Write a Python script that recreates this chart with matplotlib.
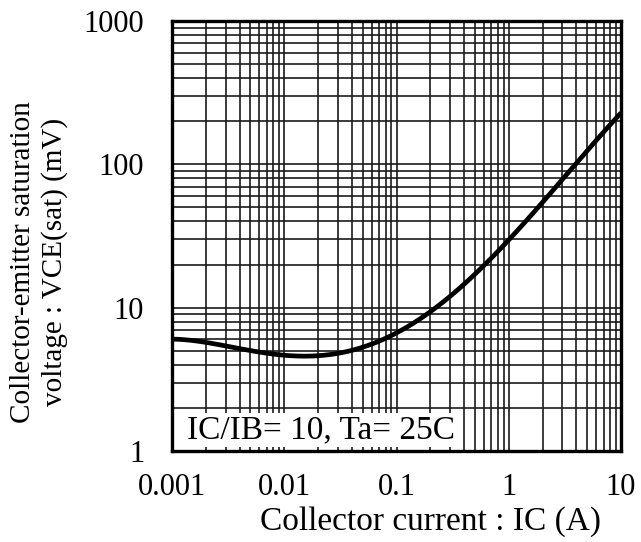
import numpy as np
import matplotlib.pyplot as plt
from matplotlib.ticker import LogLocator, NullFormatter, FixedLocator

plt.rcParams['font.family'] = ['Liberation Serif', 'DejaVu Serif']

# curve
ic = [0.001, 0.002, 0.005, 0.01, 0.0163, 0.03, 0.05, 0.1, 0.146, 0.2, 0.3, 0.5, 1, 2, 3, 5, 10]
vce = [6.05, 5.67, 5.07, 4.75, 4.46, 4.7, 5.49, 6.66, 7.95, 9.19, 11.9, 17.5, 29.7, 53.8, 77.8, 126, 228]

xticks = [0.001, 0.01, 0.1, 1, 10]
xlabels = ['0.001', '0.01', '0.1', '1', '10']
yticks = [1, 10, 100, 1000]
ylabels = ['1', '10', '100', '1000']

fig = plt.figure(figsize=(6.41, 5.42), dpi=100)
ax = fig.add_axes([172/641, 1 - 451/542, 449/641, 430/542])

# smooth line through the read points in log space
lx = np.log10(ic)
ly = np.log10(vce)
xs = np.linspace(lx[0], lx[-1], 300)
coef = np.polyfit(lx, ly, 5)
ax.plot(10**xs, 10**np.polyval(coef, xs), color='black', lw=3.4, solid_capstyle='butt', zorder=3)

ax.set_xscale('log')
ax.set_yscale('log')
ax.set_xlim(0.001, 10)
ax.set_ylim(1, 1000)

ax.xaxis.set_major_locator(FixedLocator(xticks))
ax.set_xticklabels(xlabels)
ax.yaxis.set_major_locator(FixedLocator(yticks))
ax.set_yticklabels(ylabels)
ax.xaxis.set_minor_locator(LogLocator(base=10, subs=np.arange(2, 10)))
ax.yaxis.set_minor_locator(LogLocator(base=10, subs=np.arange(2, 10)))
ax.xaxis.set_minor_formatter(NullFormatter())
ax.yaxis.set_minor_formatter(NullFormatter())

ax.grid(True, which='both', color='#1a1a1a', lw=1.2)
ax.tick_params(which='both', length=0, labelsize=22)
ax.tick_params(axis='x', pad=16)
ax.tick_params(axis='y', pad=20)
for s in ax.spines.values():
    s.set_linewidth(2.4)
    s.set_zorder(4)

ax.text(0.00136, 1.40, 'IC/IB= 10, Ta= 25C', fontsize=24, va='center', ha='left', zorder=5,
        bbox=dict(facecolor='white', edgecolor='none', pad=1))

fig.text(430/641, 1 - 522/542, 'Collector current : IC (A)', fontsize=24, ha='center', va='center')
fig.text(39/641, 1 - 262/542, 'Collector-emitter saturation\nvoltage : VCE(sat) (mV)', fontsize=21,
         ha='center', va='center', rotation=90, linespacing=1.2)

fig.savefig('out.png', dpi=100)
